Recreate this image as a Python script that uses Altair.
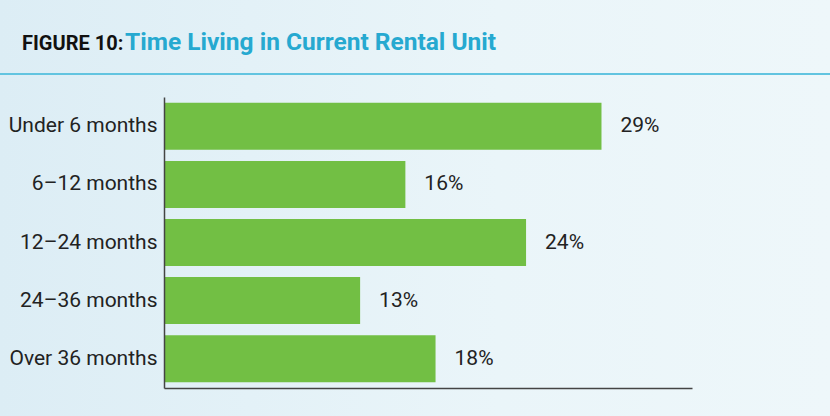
import altair as alt
import pandas as pd

categories = ["Under 6 months", "6\u201312 months", "12\u201324 months", "24\u201336 months", "Over 36 months"]
values = [29, 16, 24, 13, 18]
labels = ["29%", "16%", "24%", "13%", "18%"]

df = pd.DataFrame({"cat": categories, "val": values, "lab": labels})

FONT = "Roboto"
W, H = 528, 291
OX, OY = 164, 97  # plot origin in the page

bg = alt.Chart(pd.DataFrame({"k": [0]})).mark_rect(
    color=alt.Gradient(
        gradient="linear",
        stops=[alt.GradientStop(color="#dcedf5", offset=0),
               alt.GradientStop(color="#eaf5f9", offset=0.6),
               alt.GradientStop(color="#eef7fa", offset=1)],
        x1=0, x2=1, y1=0, y2=0),
).encode(x=alt.value(-OX), x2=alt.value(830 - OX), y=alt.value(-OY), y2=alt.value(416 - OY))

rule = alt.Chart(pd.DataFrame({"k": [0]})).mark_rule(color="#62c4e0", strokeWidth=2).encode(
    x=alt.value(-OX), x2=alt.value(830 - OX), y=alt.value(74 - OY))

t1 = alt.Chart(pd.DataFrame({"t": ["FIGURE 10:"]})).mark_text(
    align="left", baseline="alphabetic", font=FONT, fontSize=20, fontWeight="bold", color="#111111"
).encode(x=alt.value(22 - OX), y=alt.value(50 - OY), text="t")

t2 = alt.Chart(pd.DataFrame({"t": ["Time Living in Current Rental Unit"]})).mark_text(
    align="left", baseline="alphabetic", font=FONT, fontSize=24.5, fontWeight="bold", color="#26a9d0"
).encode(x=alt.value(125 - OX), y=alt.value(50 - OY), text="t")

base = alt.Chart(df)

bars = base.mark_bar(color="#72bf44").encode(
    x=alt.X("val:Q", scale=alt.Scale(domain=[0, 35]), axis=alt.Axis(
        labels=False, ticks=False, title=None, grid=False, domainColor="#444444", domainWidth=1.5,
        zindex=2)),
    y=alt.Y("cat:N", sort=None, scale=alt.Scale(paddingInner=0.19, paddingOuter=0.1), axis=alt.Axis(
        title=None, ticks=False, labelFont=FONT, labelFontSize=21, labelColor="#222222",
        labelPadding=7, domainColor="#444444", domainWidth=1.5, zindex=2)),
)

text = base.mark_text(align="left", dx=19, font=FONT, fontSize=21, color="#222222").encode(
    x="val:Q", y=alt.Y("cat:N", sort=None), text="lab:N")

chart = alt.layer(bg, rule, t1, t2, bars, text).properties(
    width=W, height=H,
    autosize=alt.AutoSizeParams(type="none"),
    padding={"left": OX, "top": OY, "right": 830 - OX - W, "bottom": 416 - OY - H},
    background="#e4f2f7",
).configure_view(stroke=None)

chart.save("out.html", embed_options={"renderer": "svg", "actions": False})
